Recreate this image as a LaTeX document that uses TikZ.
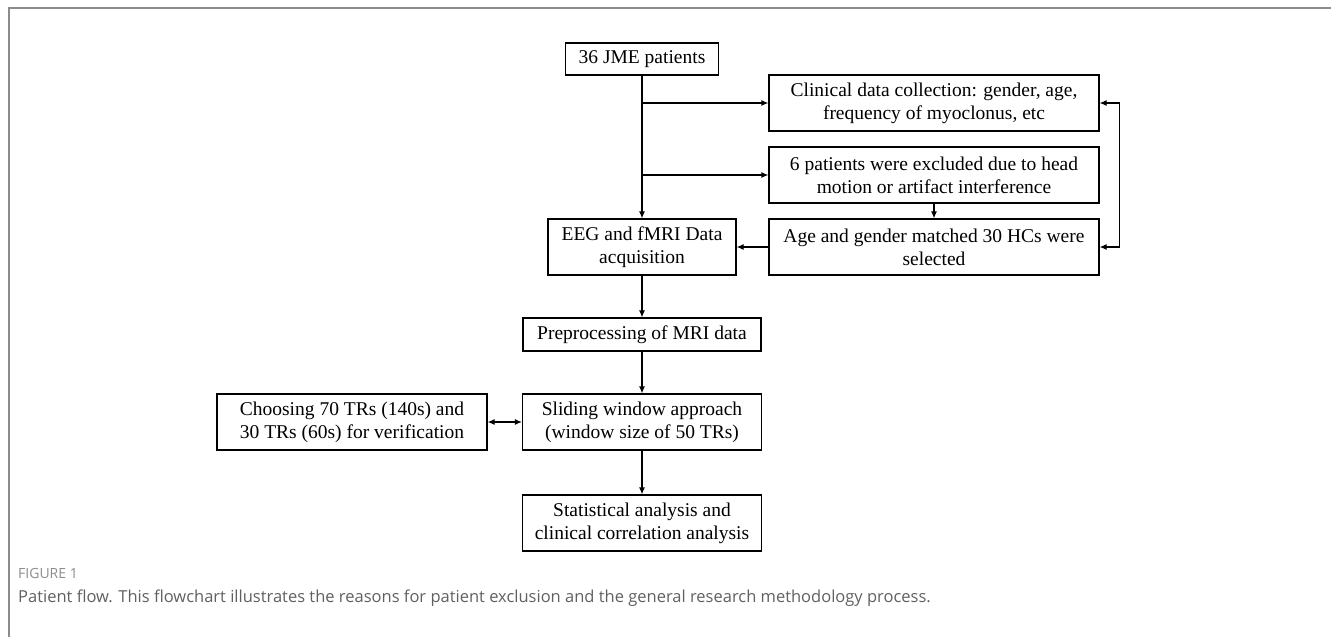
\documentclass[tikz,border=0pt]{standalone}
\usepackage{fontspec}
\setmainfont{Liberation Serif}
\newfontfamily\capfont{Open Sans}
\usetikzlibrary{arrows.meta}
\definecolor{framegray}{HTML}{8C8C8C}
\definecolor{capgray}{HTML}{606060}

\tikzset{
  blk/.style={draw,black,line width=1.2pt,align=center,inner sep=0pt,
    font=\fontsize{19.5}{23}\selectfont},
  conn/.style={black,line width=1.2pt,->,>={Latex[length=7pt,width=6pt]}}
}

\begin{document}
\begin{tikzpicture}[x=1pt,y=-1pt]
\useasboundingbox (0,0) rectangle (1331,637);

% frame of the figure
\draw[framegray,line width=1.6pt] (9,637) -- (9,8) -- (1331,8);

% main column
\node[blk,minimum width=153pt,minimum height=32pt] (jme)   at (642,59)  {36 JME patients};
\node[blk,minimum width=188pt,minimum height=56pt] (eeg)   at (642,247) {EEG and fMRI Data\\acquisition};
\node[blk,minimum width=238pt,minimum height=33pt] (prep)  at (642,334.5) {Preprocessing of MRI data};
\node[blk,minimum width=239pt,minimum height=56pt] (slide) at (642,422) {Sliding window approach\\(window size of 50 TRs)};
\node[blk,minimum width=239pt,minimum height=56pt] (stat)  at (642,523) {Statistical analysis and\\clinical correlation analysis};

% right column
\node[blk,minimum width=330pt,minimum height=56pt] (clin) at (934,103) {Clinical data collection: gender, age,\\frequency of myoclonus, etc};
\node[blk,minimum width=330pt,minimum height=56pt] (excl) at (934,175) {6 patients were excluded due to head\\motion or artifact interference};
\node[blk,minimum width=330pt,minimum height=56pt] (hc)   at (934,247) {Age and gender matched 30 HCs were\\selected};

% left box
\node[blk,minimum width=270pt,minimum height=56pt] (choose) at (352,422) {Choosing 70 TRs (140s) and\\30 TRs (60s) for verification};

% connectors
\draw[conn] (jme.south) -- (eeg.north);
\draw[conn] (jme.south |- clin.west) -- (clin.west);
\draw[conn] (jme.south |- excl.west) -- (excl.west);
\draw[conn] (excl.south) -- (hc.north);
\draw[conn] (hc.west) -- (eeg.east);
\draw[conn,<->] (clin.east) -- ++(20,0) |- (hc.east);
\draw[conn] (eeg.south) -- (prep.north);
\draw[conn] (prep.south) -- (slide.north);
\draw[conn] (slide.south) -- (stat.north);
\draw[conn,<->] (choose.east) -- (slide.west);

% caption
\node[anchor=west,inner sep=0pt,text=framegray,font=\capfont\fontsize{14}{16}\selectfont] (fig) at (18,573) {FIGURE 1};
\node[anchor=west,inner sep=0pt,text=capgray,font=\capfont\fontsize{16.5}{20}\selectfont] (cap) at (18,598)
  {Patient flow. This flowchart illustrates the reasons for patient exclusion and the general research methodology process.};
\end{tikzpicture}
\end{document}
